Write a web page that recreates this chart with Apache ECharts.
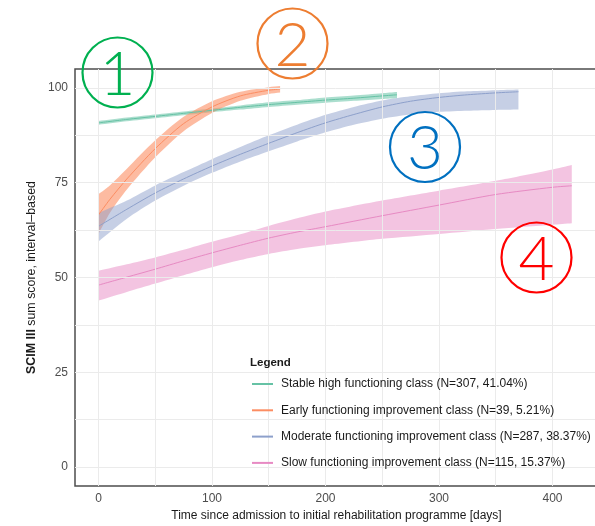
<!DOCTYPE html>
<html>
<head>
<meta charset="utf-8">
<script src="https://cdn.jsdelivr.net/npm/echarts@6/dist/echarts.min.js"></script>
<style>
  html, body { margin: 0; padding: 0; background: #ffffff; }
  #chart { width: 595px; height: 526px; }
</style>
</head>
<body>
<div id="chart"></div>
<script>
// Latent trajectory classes of SCIM III over time: fitted score and confidence band per class
const classNames = [
  'Stable high functioning class (N=307, 41.04%)',
  'Early functioning improvement class (N=39, 5.21%)',
  'Moderate functioning improvement class (N=287, 38.37%)',
  'Slow functioning improvement class (N=115, 15.37%)'
];
const classColors = ['#66c2a5', '#fc8d62', '#8da0cb', '#e78ac3'];

const stableDays = [0, 25, 50, 75, 100, 125, 150, 175, 200, 225, 250, 263];
const stableFit  = [90.8, 91.7, 92.5, 93.3, 94.1, 94.9, 95.6, 96.2, 96.8, 97.3, 97.9, 98.2];
const stableLow  = [90.3, 91.2, 92.0, 92.8, 93.6, 94.3, 95.0, 95.6, 96.1, 96.6, 97.1, 97.3];
const stableHigh = [91.3, 92.2, 93.0, 93.8, 94.6, 95.4, 96.2, 96.8, 97.5, 98.0, 98.6, 98.9];

const earlyDays = [0, 10, 25, 50, 75, 100, 125, 150, 160];
const earlyFit  = [66.5, 70.6, 76.0, 84.0, 90.6, 95.0, 97.9, 99.4, 99.7];
const earlyLow  = [61.5, 67.0, 73.2, 81.7, 88.6, 93.4, 96.6, 98.4, 98.8];
const earlyHigh = [72.0, 74.3, 78.7, 86.2, 92.4, 96.5, 99.0, 100.2, 100.5];

const moderateDays = [0, 25, 50, 75, 100, 125, 150, 175, 200, 225, 250, 275, 300, 325, 350, 370];
const moderateFit  = [63.5, 68.0, 72.3, 76.0, 79.4, 82.5, 85.4, 88.2, 90.8, 93.0, 95.0, 96.5, 97.5, 98.2, 98.7, 99.0];
const moderateLow  = [59.5, 65.5, 70.3, 74.2, 77.6, 80.6, 83.3, 85.9, 88.3, 90.3, 91.9, 93.0, 93.7, 94.0, 94.2, 94.3];
const moderateHigh = [67.0, 70.3, 74.3, 77.8, 81.2, 84.4, 87.5, 90.3, 92.9, 95.0, 96.7, 97.8, 98.6, 99.1, 99.4, 99.6];

const slowDays = [0, 25, 50, 75, 100, 125, 150, 175, 200, 250, 300, 350, 400, 417];
const slowFit  = [48.0, 50.1, 52.2, 54.4, 56.5, 58.5, 60.4, 62.0, 63.4, 66.3, 69.1, 71.9, 73.8, 74.2];
const slowLow  = [43.9, 46.2, 48.4, 50.6, 52.7, 54.6, 56.2, 57.5, 58.5, 60.2, 61.5, 62.8, 63.9, 64.3];
const slowHigh = [51.8, 53.5, 55.3, 57.3, 59.4, 61.4, 63.6, 65.6, 67.4, 70.3, 72.9, 75.5, 78.5, 79.7];

const dayTicks   = [0, 100, 200, 300, 400];
const scoreTicks = [0, 25, 50, 75, 100];
const dayGrid    = [0, 50, 100, 150, 200, 250, 300, 350, 400];
const scoreGrid  = [0, 12.5, 25, 37.5, 50, 62.5, 75, 87.5, 100];

const FONT = 'Liberation Sans, Arial, Helvetica, sans-serif';
const SMOOTH = 0.25;

function hexToRgba(hex, a) {
  const n = parseInt(hex.slice(1), 16);
  return 'rgba(' + (n >> 16) + ',' + ((n >> 8) & 255) + ',' + (n & 255) + ',' + a + ')';
}

// Bezier path segments through pixel points (same rule as the line series' smoothing)
function smoothSegments(pts) {
  let d = '';
  const n = pts.length;
  const cps = pts.map((p, i) => {
    const prev = pts[Math.max(i - 1, 0)];
    const next = pts[Math.min(i + 1, n - 1)];
    const dx = next[0] - prev[0], dy = next[1] - prev[1];
    const d0 = Math.hypot(p[0] - prev[0], p[1] - prev[1]);
    const d1 = Math.hypot(next[0] - p[0], next[1] - p[1]);
    const s = d0 + d1 || 1;
    return {
      inC: [p[0] - dx * SMOOTH * d0 / s, p[1] - dy * SMOOTH * d0 / s],
      outC: [p[0] + dx * SMOOTH * d1 / s, p[1] + dy * SMOOTH * d1 / s]
    };
  });
  for (let i = 1; i < n; i++) {
    const a = cps[i - 1].outC, b = cps[i].inC, p = pts[i];
    d += ' C' + a[0] + ',' + a[1] + ' ' + b[0] + ',' + b[1] + ' ' + p[0] + ',' + p[1];
  }
  return d;
}

// One class = confidence band (custom series) + fitted line
function classSeries(idx, days, fit, low, high, fillAlpha) {
  const color = classColors[idx];
  const fill = hexToRgba(color, fillAlpha);
  return [
    {
      type: 'custom', silent: true, z: 3,
      data: days.map((d, i) => [d, low[i], high[i]]),
      encode: { x: 0, y: [1, 2] },
      renderItem: function (params, api) {
        if (params.dataIndex !== 0) return null;
        const upper = days.map((d, i) => api.coord([d, high[i]]));
        const lower = days.map((d, i) => api.coord([d, low[i]])).reverse();
        const path = 'M' + upper[0][0] + ',' + upper[0][1] + smoothSegments(upper) +
          ' L' + lower[0][0] + ',' + lower[0][1] + smoothSegments(lower) + ' Z';
        return {
          type: 'path',
          shape: { pathData: path },
          style: { fill: fill, stroke: 'none' }
        };
      }
    },
    {
      name: classNames[idx], type: 'line', symbol: 'none', z: 4,
      smooth: SMOOTH,
      itemStyle: { color: color },
      lineStyle: { color: color, width: 1 },
      data: days.map((d, i) => [d, fit[i]])
    }
  ];
}

// Light panel grid
const gridSeries = {
  type: 'line', data: [], silent: true, z: 1,
  markLine: {
    silent: true, symbol: 'none', label: { show: false },
    lineStyle: { color: '#ebebeb', width: 1, type: 'solid' },
    emphasis: { disabled: true },
    data: dayGrid.map(v => ({ xAxis: v })).concat(scoreGrid.map(v => ({ yAxis: v })))
  }
};

// Circled class numbers
function badge(label, cx, cy, color) {
  return {
    type: 'group', z: 100,
    children: [
      { type: 'circle', z: 100, shape: { cx: cx, cy: cy, r: 35 },
        style: { fill: 'none', stroke: color, lineWidth: 2.2 } },
      { type: 'text', z: 100, x: cx, y: cy + 2,
        style: { text: label, fill: color, font: '300 62px Lato, sans-serif',
                 align: 'center', verticalAlign: 'middle' } }
    ]
  };
}

const chart = echarts.init(document.getElementById('chart'), null, { renderer: 'canvas' });
chart.setOption({
  animation: false,
  backgroundColor: '#ffffff',
  textStyle: { fontFamily: FONT },
  title: [{
    text: 'Legend', left: 250, top: 357, padding: 0, z: 10,
    textStyle: { fontSize: 11.5, fontWeight: 'bold', color: '#1a1a1a', fontFamily: FONT }
  }],
  grid: {
    left: 75, top: 69, width: 523, height: 417,
    outerBoundsMode: 'none', containLabel: false,
    show: true, borderColor: '#4d4d4d', borderWidth: 1.5, backgroundColor: '#ffffff'
  },
  xAxis: {
    type: 'value', min: -20.7, max: 440.1,
    name: 'Time since admission to initial rehabilitation programme [days]',
    nameLocation: 'middle', nameGap: 24,
    nameTextStyle: { fontSize: 12, color: '#1a1a1a', fontFamily: FONT },
    axisLine: { show: false },
    axisTick: { show: true, length: 4, customValues: dayTicks, lineStyle: { color: '#4d4d4d', width: 1 } },
    axisLabel: { customValues: dayTicks, fontSize: 12, color: '#4d4d4d', margin: 7, fontFamily: FONT },
    splitLine: { show: false }
  },
  yAxis: {
    type: 'value', min: -5, max: 105,
    name: '{b|SCIM III} sum score, interval–based',
    nameLocation: 'middle', nameGap: 34, nameRotate: 90,
    nameTextStyle: {
      fontSize: 12.4, color: '#1a1a1a', fontFamily: FONT,
      rich: { b: { fontSize: 12.4, fontWeight: 'bold', color: '#1a1a1a', fontFamily: FONT } }
    },
    axisLine: { show: false },
    axisTick: { show: true, length: 4, customValues: scoreTicks, lineStyle: { color: '#4d4d4d', width: 1 } },
    axisLabel: { customValues: scoreTicks, fontSize: 12, color: '#4d4d4d', margin: 7, fontFamily: FONT },
    splitLine: { show: false }
  },
  legend: {
    orient: 'vertical', left: 242, top: 348,
    padding: [29, 0, 12, 10],
    itemGap: 12.3, itemWidth: 21, itemHeight: 2, icon: 'rect',
    textStyle: { fontSize: 12, color: '#1a1a1a', fontFamily: FONT, lineHeight: 14, padding: [0, 0, 0, 3] },
    data: classNames,
    selectedMode: false,
    z: 6
  },
  series: [gridSeries]
    .concat(classSeries(0, stableDays, stableFit, stableLow, stableHigh, 0.55))
    .concat(classSeries(1, earlyDays, earlyFit, earlyLow, earlyHigh, 0.6))
    .concat(classSeries(2, moderateDays, moderateFit, moderateLow, moderateHigh, 0.5))
    .concat(classSeries(3, slowDays, slowFit, slowLow, slowHigh, 0.5)),
  graphic: [
    // white box behind the legend
    { type: 'rect', z: 2, silent: true,
      shape: { x: 242, y: 348, width: 360, height: 135 },
      style: { fill: '#ffffff' } },
    badge('1', 117.5, 72.5, '#00b050'),
    badge('2', 292.5, 43.5, '#ed7d31'),
    badge('3', 425, 147, '#0070c0'),
    badge('4', 536.5, 257.5, '#ff0000')
  ]
});
</script>
</body>
</html>
